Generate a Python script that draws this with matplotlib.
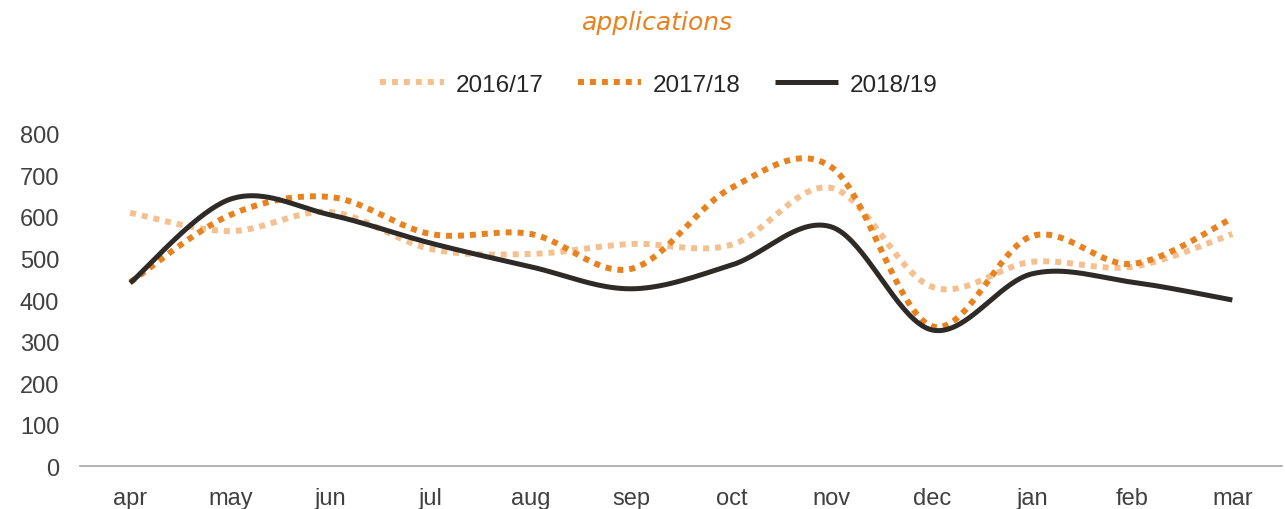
import numpy as np
import matplotlib
matplotlib.use('Agg')
from matplotlib import pyplot as plt

months = ['apr', 'may', 'jun', 'jul', 'aug', 'sep', 'oct', 'nov', 'dec', 'jan', 'feb', 'mar']
apps_1617 = [610, 566, 612, 523, 511, 535, 533, 670, 432, 492, 480, 559]
apps_1718 = [443, 605, 648, 559, 559, 475, 670, 720, 337, 554, 487, 597]
apps_1819 = [441, 643, 605, 537, 480, 427, 484, 576, 328, 463, 443, 400]


def smooth(y, n=40):
    # excel style smoothed line: catmull-rom through every point
    y = np.asarray(y, float)
    x = np.arange(len(y), dtype=float)
    p = np.column_stack([x, y])
    pp = np.vstack([p[0], p, p[-1]])
    t = np.linspace(0, 1, n)[:, None]
    out = []
    for i in range(len(p) - 1):
        p0, p1, p2, p3 = pp[i], pp[i + 1], pp[i + 2], pp[i + 3]
        c1 = p1 + (p2 - p0) / 6
        c2 = p2 - (p3 - p1) / 6
        seg = ((1 - t) ** 3) * p1 + 3 * ((1 - t) ** 2) * t * c1 + 3 * (1 - t) * t ** 2 * c2 + t ** 3 * p2
        out.append(seg if i == 0 else seg[1:])
    out = np.vstack(out)
    return out[:, 0], out[:, 1]


plt.rcParams['font.family'] = ['Liberation Sans', 'DejaVu Sans']
fig = plt.figure(figsize=(12.85, 5.1), dpi=100)
ax = fig.add_axes([0.0623, 0.0843, 0.9357, 0.651])

series = [('2016/17', apps_1617, '#F5C08F', (0, (1, 1)), 4.3),
          ('2017/18', apps_1718, '#E8821E', (0, (1, 1)), 4.3),
          ('2018/19', apps_1819, '#2E2A27', '-', 3.6)]
for label, vals, color, ls, lw in series:
    xs, ys = smooth(vals)
    ax.plot(xs, ys, color=color, linestyle=ls, linewidth=lw, label=label,
            dash_capstyle='butt', solid_capstyle='butt')

ax.set_xlim(-0.5, len(months) - 0.5)
ax.set_ylim(0, 800)
ax.set_yticks(range(0, 801, 100))
ax.set_xticks(range(len(months)))
ax.set_xticklabels(months)
ax.tick_params(length=0, labelsize=17, colors='#404040')
ax.tick_params(axis='x', pad=15)
ax.tick_params(axis='y', pad=15)
for s in ['top', 'right', 'left']:
    ax.spines[s].set_visible(False)
ax.spines['bottom'].set_color('#A6A6A6')
ax.spines['bottom'].set_linewidth(1.2)

fig.legend(loc='center', bbox_to_anchor=(0.513, 0.832), ncol=3, frameon=False,
           fontsize=17.5, handlelength=2.6, columnspacing=1.4, handletextpad=0.5,
           labelcolor='#262626')
fig.text(0.512, 0.955, 'applications', ha='center', va='center', fontsize=18,
         color='#E8821E', style='italic', family=['DejaVu Sans'])

fig.savefig('out.png', dpi=100)
